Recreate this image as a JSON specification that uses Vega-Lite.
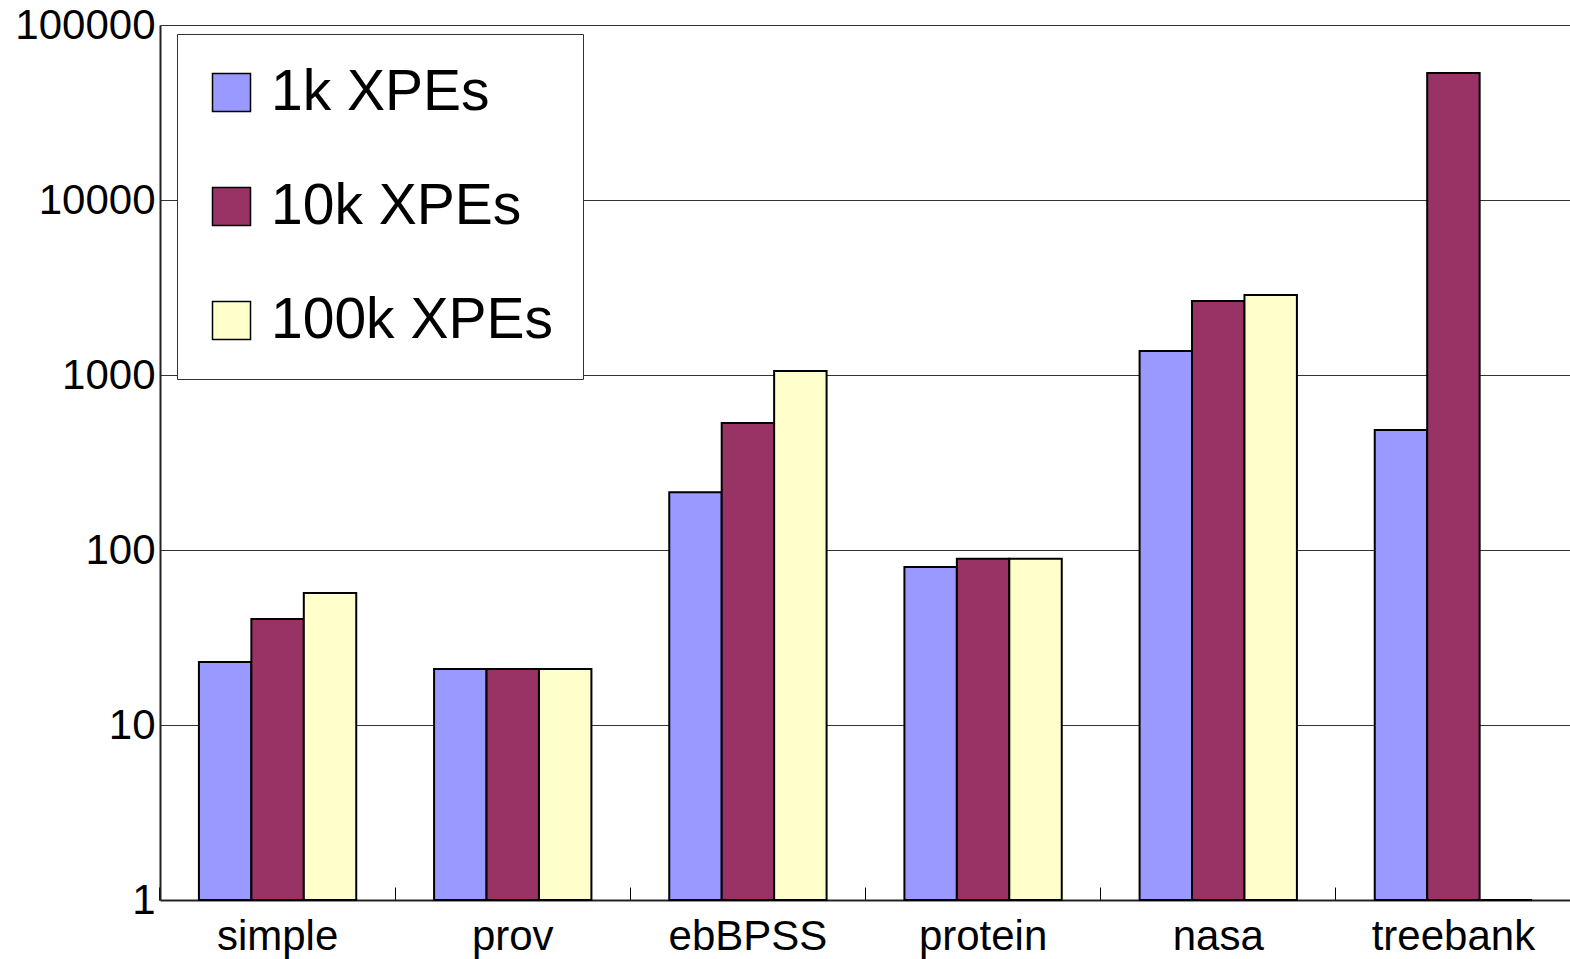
{
  "$schema": "https://vega.github.io/schema/vega-lite/v6.json",
  "width": 1411,
  "height": 875,
  "autosize": {"type": "none"},
  "padding": {"left": 160, "top": 25, "right": 0, "bottom": 59},
  "background": "white",
  "config": {
    "font": "Liberation Sans",
    "view": {"stroke": null},
    "axis": {"labelFont": "Liberation Sans", "labelColor": "black"}
  },
  "data": {
    "values": [
      {"dataset": "simple", "series": "1k XPEs", "value": 22.9},
      {"dataset": "simple", "series": "10k XPEs", "value": 40.3},
      {"dataset": "simple", "series": "100k XPEs", "value": 56.8},
      {"dataset": "prov", "series": "1k XPEs", "value": 20.9},
      {"dataset": "prov", "series": "10k XPEs", "value": 20.9},
      {"dataset": "prov", "series": "100k XPEs", "value": 20.9},
      {"dataset": "ebBPSS", "series": "1k XPEs", "value": 214},
      {"dataset": "ebBPSS", "series": "10k XPEs", "value": 532},
      {"dataset": "ebBPSS", "series": "100k XPEs", "value": 1054},
      {"dataset": "protein", "series": "1k XPEs", "value": 80},
      {"dataset": "protein", "series": "10k XPEs", "value": 89},
      {"dataset": "protein", "series": "100k XPEs", "value": 89},
      {"dataset": "nasa", "series": "1k XPEs", "value": 1371},
      {"dataset": "nasa", "series": "10k XPEs", "value": 2650},
      {"dataset": "nasa", "series": "100k XPEs", "value": 2866},
      {"dataset": "treebank", "series": "1k XPEs", "value": 485},
      {"dataset": "treebank", "series": "10k XPEs", "value": 53200},
      {"dataset": "treebank", "series": "100k XPEs", "value": 1}
    ]
  },
  "mark": {"type": "bar", "stroke": "black", "strokeWidth": 2, "opacity": 1},
  "encoding": {
    "x": {
      "field": "dataset",
      "type": "nominal",
      "sort": ["simple", "prov", "ebBPSS", "protein", "nasa", "treebank"],
      "scale": {"paddingInner": 0.331, "paddingOuter": 0.1655},
      "axis": {
        "title": null,
        "labelAngle": 0,
        "labelFontSize": 42,
        "labelPadding": 29,
        "bandPosition": -0.2474,
        "ticks": true,
        "tickSize": -13,
        "tickColor": "black",
        "tickWidth": 1,
        "domainColor": "#222",
        "domainWidth": 2,
        "grid": false
      }
    },
    "xOffset": {
      "field": "series",
      "type": "nominal",
      "sort": ["1k XPEs", "10k XPEs", "100k XPEs"],
      "scale": {"paddingInner": 0, "paddingOuter": 0}
    },
    "y": {
      "field": "value",
      "type": "quantitative",
      "stack": null,
      "scale": {"type": "log", "domain": [1, 100000], "nice": false},
      "axis": {
        "title": null,
        "values": [1, 10, 100, 1000, 10000, 100000],
        "format": "d",
        "labelFontSize": 42,
        "labelPadding": 5,
        "ticks": false,
        "grid": true,
        "gridColor": "#333",
        "gridWidth": 1,
        "gridOpacity": 1,
        "domainColor": "#222",
        "domainWidth": 2
      }
    },
    "y2": {"datum": 1},
    "color": {
      "field": "series",
      "type": "nominal",
      "sort": ["1k XPEs", "10k XPEs", "100k XPEs"],
      "scale": {
        "domain": ["1k XPEs", "10k XPEs", "100k XPEs"],
        "range": ["#9999FF", "#993366", "#FFFFCC"]
      },
      "legend": {
        "title": null,
        "orient": "none",
        "legendX": 17,
        "legendY": 9,
        "padding": 30,
        "fillColor": "white",
        "strokeColor": "#333",
        "symbolType": "square",
        "symbolSize": 1444,
        "symbolOffset": -4,
        "symbolStrokeColor": "black",
        "symbolStrokeWidth": 1.5,
        "symbolOpacity": 1,
        "labelFontSize": 57,
        "labelFont": "Liberation Sans",
        "labelColor": "black",
        "labelOffset": 11,
        "rowPadding": 56,
        "labelLimit": 0
      }
    }
  }
}
